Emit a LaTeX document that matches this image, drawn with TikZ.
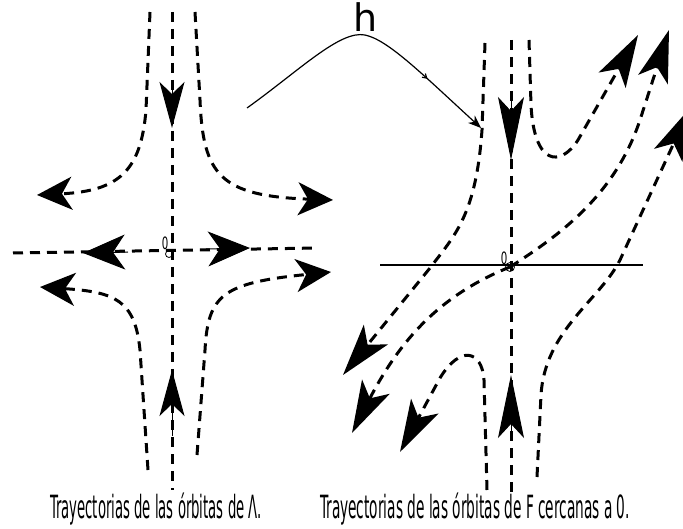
\documentclass[tikz,border=0pt]{standalone}
\usepackage{fontspec}
\setmainfont{DejaVu Sans}
\usetikzlibrary{arrows.meta, decorations.markings}

\begin{document}
\begin{tikzpicture}[
    x=1pt, y=-1pt,
    >=Stealth,
    orbit/.style={dash pattern=on 10pt off 7pt, line width=3pt},
    tipv/.style={-{Stealth[length=46pt, width=25pt, inset=12pt]}, line width=1pt},
    tipvv/.style={-{Stealth[length=63pt, width=26pt, inset=14pt]}, line width=1pt},
    tiph/.style={-{Stealth[length=42pt, width=35pt, inset=12pt]}, line width=1pt},
    tipc/.style={-{Stealth[length=35pt, width=33pt, inset=10pt]}},
    tipd/.style={-{Stealth[length=52pt, width=31pt, inset=13pt]}},
    hmap/.style={line width=1.2pt, -{Stealth[length=13pt, width=10pt, inset=4pt]},
        postaction={decorate, decoration={markings,
            mark=at position 0.75 with {\arrow{Straight Barb[length=4pt, width=5pt]}}}}},
    axis/.style={line width=1.2pt},
    origin/.style={font=\fontsize{17}{17}\selectfont, inner sep=0pt},
    caption/.style={font=\fontsize{32}{32}\selectfont, inner sep=0pt, anchor=base}
]
\useasboundingbox (0,0) rectangle (683,529);

% Orbits of Lambda
\coordinate (oL) at (169,254);
\draw[orbit] (13,253) -- (318,248);
\draw[orbit] (172,12) -- (172,490);
\draw[tipv] (172,82) -- (172,128);
\draw[tipv] (172,436) -- (172,370);
\draw[tiph] (128,252) -- (83,253);
\draw[tiph] (206,249) -- (250,248);
\draw[orbit, tipc] (150,12) -- (146,110) .. controls (141,170) and (120,191) .. (37,195);
\draw[orbit, tipc] (195,12) -- (200,100) .. controls (203,175) and (220,196) .. (333,200);
\draw[orbit, tipc] (148,470) -- (140,350) .. controls (135,300) and (115,292) .. (40,287);
\draw[orbit, tipc] (197,455) -- (205,350) .. controls (208,295) and (222,283) .. (331,272);
\node (zL) [origin] at (165,243) {\resizebox{6.5pt}{\height}{0}};
\draw[line width=0.8pt] (oL) circle (3.5pt);

% the map h
\node (h) [font=\fontsize{38}{38}\selectfont, inner sep=0pt, anchor=base] at (366,32) {h};
\draw[hmap] (247,108) .. controls (300,70) and (340,30) .. (365,35) .. controls (388,40) and (420,72) .. (481,128);

% Orbits of F near 0
\coordinate (oF) at (510,267);
\draw[axis] (380,265) -- (643,265);
\draw[orbit] (511,40) -- (511,493);
\draw[tipvv] (511,95) -- (511,160);
\draw[tipvv] (511,438) -- (511,375);
\draw[orbit, tipd] (485,43) -- (482,130) .. controls (476,215) and (455,235) .. (430,268) -- (343,375);
\draw[orbit, tipd] (529,40) -- (531,105) .. controls (534,165) and (560,168) .. (578,140) -- (638,35);
\draw[orbit, tipd] (oF) .. controls (560,235) and (615,195) .. (640,120) -- (669,30);
\draw[orbit, tipd] (oF) .. controls (440,295) and (400,340) .. (352,433);
\draw[orbit, tipd] (537,477) -- (541,395) .. controls (545,330) and (600,300) .. (620,260) -- (690,108);
\draw[orbit, tipd] (487,490) -- (484,380) .. controls (482,350) and (460,345) .. (440,378) -- (400,452);
\node (zF) [origin] at (504,258) {\resizebox{6.5pt}{\height}{0}};
\draw[line width=0.8pt] (oF) circle (4.5pt);

% captions
\node (capL) [caption] at (156,518) {\resizebox{212pt}{\height}{Trayectorias de las órbitas de Λ.}};
\node (capF) [caption] at (475,518) {\resizebox{310pt}{\height}{Trayectorias de las órbitas de F cercanas a 0.}};
\end{tikzpicture}
\end{document}
